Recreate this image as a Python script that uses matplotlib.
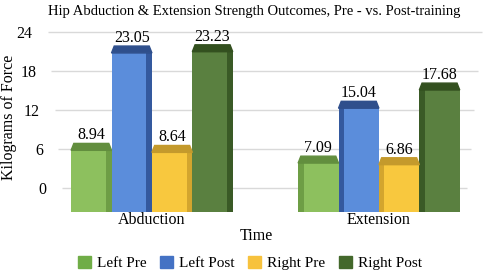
"""
Hip abduction / extension strength, pre vs post training,
drawn as Excel-style pseudo-3D column chart.
"""
import matplotlib.pyplot as plt
import matplotlib.patches as mpatches
from matplotlib.transforms import ScaledTranslation

plt.rcParams['font.family'] = ['Liberation Serif', 'DejaVu Serif']

categories = ["Abduction", "Extension"]
series     = ["Left Pre", "Left Post", "Right Pre", "Right Post"]
left_pre   = [8.94, 7.09]
left_post  = [23.05, 15.04]
right_pre  = [8.64, 6.86]
right_post = [23.23, 17.68]
y_ticks    = [0, 6, 12, 18, 24]

FRONT  = ["#8DC05E", "#5B8DDB", "#F8C83E", "#5A8040"]
SIDE   = ["#6E9E45", "#34599E", "#D3A52E", "#3A5A26"]
TOP    = ["#628E3E", "#2F4F8C", "#C49A2C", "#33501F"]
LEGEND = ["#70AD47", "#4472C4", "#F7C23D", "#43682B"]

W, H = 485, 274
AX_L, AX_R = 55, 472


def frac(left, top, right, bottom):
    # pixel box -> figure fraction rect
    return [left / W, 1 - bottom / H, (right - left) / W, (bottom - top) / H]


fig = plt.figure(figsize=(W / 100, H / 100), dpi=100)

# back wall with gridlines and y ticks
ax = fig.add_axes(frac(AX_L, 32, AX_R, 188))
xlim = (-0.427, 1.41)
ax.set_xlim(*xlim)
ax.set_ylim(0, 24)
ax.set_yticks(y_ticks)
ax.set_xticks([])
ax.tick_params(axis="y", length=0, pad=6, labelsize=11.5)
for s in ax.spines.values():
    s.set_visible(False)
ax.set_facecolor("none")


def px_to_x(px):
    return xlim[0] + (px - AX_L) / (AX_R - AX_L) * (xlim[1] - xlim[0])


# gridlines drawn with a little perspective (wider towards the top)
top_val = y_ticks[-1]
for y in y_ticks:
    t = y / top_val
    ax.hlines(y, px_to_x(62 - 14 * t), px_to_x(467 + 15 * t),
              color="#D9D9D9", linewidth=1.0, clip_on=False, zorder=0)
for lab, y in zip(ax.get_yticklabels(), y_ticks):
    dx = -14 * (y / top_val) / 100
    lab.set_transform(lab.get_transform() + ScaledTranslation(dx, 0, fig.dpi_scale_trans))

# bars in front of the wall
ax2 = fig.add_axes(frac(AX_L, 32, AX_R, 212))
ax2.set_xlim(*xlim)
ax2.set_ylim(0, 180 / 6.9)
ax2.set_facecolor("none")
for s in ax2.spines.values():
    s.set_visible(False)
ax2.set_yticks([])
ax2.set_xticks(range(len(categories)))
ax2.set_xticklabels(categories, fontsize=11.5)
ax2.tick_params(axis="x", length=0, pad=0)

bw = 0.178
depth = 1.0
side_w = 0.024
all_vals = [left_pre, left_post, right_pre, right_post]
for i, vals in enumerate(all_vals):
    off = (i - 1.5) * bw
    xs = [c + off for c in range(len(categories))]
    ax2.bar(xs, vals, width=bw, color=FRONT[i], edgecolor="none", zorder=2)
    for c, (x, v) in enumerate(zip(xs, vals)):
        x0, x1 = x - bw / 2, x + bw / 2
        # dark side: right for left group, left for right group
        sx = x1 - side_w if c == 0 else x0
        ax2.bar(sx, v, width=side_w, align="edge", color=SIDE[i],
                edgecolor="none", zorder=3)
        # top face
        ax2.fill([x0, x1, x1 - 0.012, x0 + 0.012],
                 [v, v, v + depth, v + depth],
                 color=TOP[i], zorder=4, clip_on=False)
        ax2.text(x, v + depth, f"{v:.2f}", ha="center", va="bottom",
                 fontsize=11.5, zorder=5)

fig.text(254 / W, 1 - 12 / H,
         "Hip Abduction & Extension Strength Outcomes, Pre - vs. Post-training",
         ha="center", va="center", fontsize=10.5)
fig.text(9 / W, 1 - 117 / H, "Kilograms of Force", rotation=90,
         ha="center", va="center", fontsize=11.5)
fig.text(256 / W, 1 - 236 / H, "Time", ha="center", va="center", fontsize=11.5)

handles = [mpatches.Patch(color=c, label=s) for s, c in zip(series, LEGEND)]
fig.legend(handles=handles, ncol=4, loc="center",
           bbox_to_anchor=(250 / W, 1 - 263 / H), frameon=False,
           fontsize=11, handlelength=0.85, handleheight=0.85,
           handletextpad=0.4, columnspacing=0.9)

plt.savefig("out.png", dpi=100)
